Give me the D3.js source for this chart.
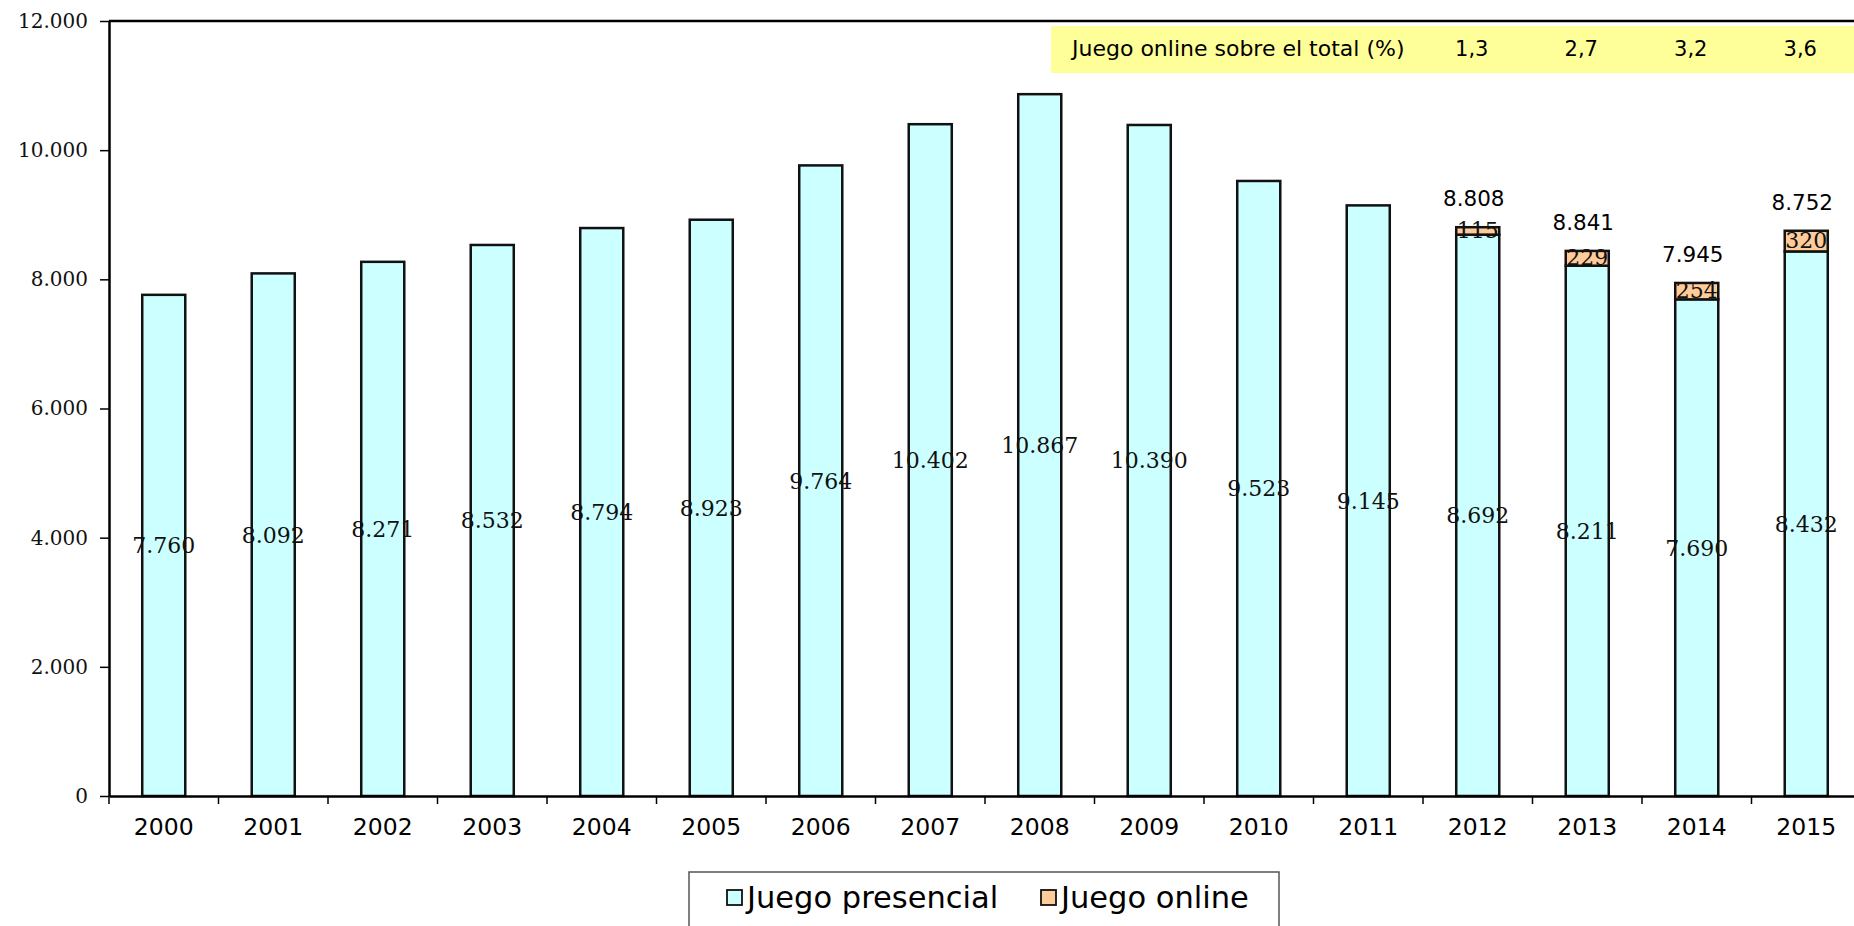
<!DOCTYPE html>
<html lang="es">
<head>
<meta charset="utf-8">
<title>Juego presencial y juego online</title>
<script src="https://cdn.jsdelivr.net/npm/d3@7"></script>
<style>
  html, body { margin: 0; padding: 0; background: #ffffff; }
  svg { display: block; }
</style>
</head>
<body>
<svg id="chart" width="1854" height="926"></svg>
<script>
// Años y cantidades (millones de euros)
const years = ["2000","2001","2002","2003","2004","2005","2006","2007","2008","2009","2010","2011","2012","2013","2014","2015"];
const presencial = [7760, 8092, 8271, 8532, 8794, 8923, 9764, 10402, 10867, 10390, 9523, 9145, 8692, 8211, 7690, 8432];
const online = [null, null, null, null, null, null, null, null, null, null, null, null, 115, 229, 254, 320];
// Totales publicados sobre las barras apiladas
const totalYears = ["2012","2013","2014","2015"];
const totals = [8808, 8841, 7945, 8752];
// Peso del juego online sobre el total
const shareYears = ["2012","2013","2014","2015"];
const sharePct = ["1,3","2,7","3,2","3,6"];
const yTicks = [0, 2000, 4000, 6000, 8000, 10000, 12000];
const seriesNames = ["Juego presencial", "Juego online"];
const seriesColors = ["#ccffff", "#ffcc99"];

const es = d3.formatLocale({decimal: ",", thousands: ".", grouping: [3], currency: ["", " €"]});
const fmt = es.format(",.0f");

const svg = d3.select("#chart");
const plotLeft = 109, plotTop = 21, plotBottom = 796;
const plotWidth = 16 * 109.5;

const x = d3.scaleBand().domain(years).range([plotLeft, plotLeft + plotWidth]).padding(0);
const y = d3.scaleLinear().domain([0, 12000]).range([plotBottom, plotTop]);
const barW = x.bandwidth() * 0.393;
const cx = d => x(d) + x.bandwidth() / 2;

const sansFont = "DejaVu Sans, Verdana, sans-serif";
const labelFont = "DejaVu Serif, serif";

// Banda amarilla con el porcentaje online
const band = svg.append("g");
band.append("rect")
  .attr("x", 1051).attr("y", 26).attr("width", 900).attr("height", 47)
  .attr("fill", "#ffff99");
band.append("text")
  .attr("x", 1072).attr("y", 50)
  .attr("dominant-baseline", "middle")
  .attr("font-family", sansFont)
  .attr("font-size", 22)
  .attr("fill", "#000")
  .text("Juego online sobre el total (%)");
band.selectAll("text.pct").data(shareYears).join("text")
  .attr("class", "pct")
  .attr("x", (d) => cx(d) - 6)
  .attr("y", 50)
  .attr("text-anchor", "middle")
  .attr("dominant-baseline", "middle")
  .attr("font-family", sansFont)
  .attr("font-size", 21)
  .attr("fill", "#000")
  .text((d, i) => sharePct[i]);

// Barras: juego presencial
const bars = svg.append("g");
bars.selectAll("rect.pres").data(years).join("rect")
  .attr("class", "pres")
  .attr("x", d => cx(d) - barW / 2)
  .attr("width", barW)
  .attr("y", (d, i) => y(presencial[i]))
  .attr("height", (d, i) => y(0) - y(presencial[i]))
  .attr("fill", seriesColors[0])
  .attr("stroke", "#111")
  .attr("stroke-width", 2.5);

// Barras: juego online apilado
const onlineYears = years.filter((d, i) => online[i] != null);
bars.selectAll("rect.onl").data(onlineYears).join("rect")
  .attr("class", "onl")
  .attr("x", d => cx(d) - barW / 2)
  .attr("width", barW)
  .attr("y", d => { const i = years.indexOf(d); return y(presencial[i] + online[i]); })
  .attr("height", d => { const i = years.indexOf(d); return y(presencial[i]) - y(presencial[i] + online[i]); })
  .attr("fill", seriesColors[1])
  .attr("stroke", "#111")
  .attr("stroke-width", 2.5);

// Etiquetas dentro de las barras
svg.append("g").selectAll("text").data(years).join("text")
  .attr("x", d => cx(d))
  .attr("y", (d, i) => y(presencial[i] / 2) + 2)
  .attr("text-anchor", "middle")
  .attr("dominant-baseline", "middle")
  .attr("font-family", labelFont)
  .attr("font-size", 22)
  .attr("fill", "#111")
  .text((d, i) => fmt(presencial[i]));

svg.append("g").selectAll("text").data(onlineYears).join("text")
  .attr("x", d => cx(d))
  .attr("y", d => { const i = years.indexOf(d); return y(presencial[i] + online[i] / 2) + 1; })
  .attr("text-anchor", "middle")
  .attr("dominant-baseline", "middle")
  .attr("font-family", labelFont)
  .attr("font-size", 22)
  .attr("fill", "#111")
  .text(d => fmt(online[years.indexOf(d)]));

// Totales sobre las barras apiladas
svg.append("g").selectAll("text").data(totalYears).join("text")
  .attr("x", d => cx(d) - 4)
  .attr("y", d => { const i = years.indexOf(d); return y(presencial[i] + online[i]) - 21; })
  .attr("text-anchor", "middle")
  .attr("font-family", sansFont)
  .attr("font-size", 21.5)
  .attr("fill", "#000")
  .text((d, i) => fmt(totals[i]));

// Eje Y
const yAxis = svg.append("g")
  .attr("transform", `translate(${plotLeft},0)`)
  .call(d3.axisLeft(y).tickValues(yTicks).tickFormat(fmt).tickSize(9).tickSizeOuter(0).tickPadding(12));
yAxis.select(".domain").attr("stroke", "#000").attr("stroke-width", 2.5);
yAxis.selectAll(".tick line").attr("stroke", "#000").attr("stroke-width", 1.5);
yAxis.selectAll(".tick text")
  .attr("font-family", labelFont)
  .attr("font-size", 20)
  .attr("fill", "#111");

// Eje X: marcas entre categorías y etiquetas centradas
const xAxis = svg.append("g")
  .attr("transform", `translate(0,${plotBottom})`)
  .call(d3.axisBottom(x).tickSize(0).tickSizeOuter(0).tickPadding(22));
xAxis.select(".domain").attr("stroke", "#000").attr("stroke-width", 2.5);
xAxis.selectAll(".tick text")
  .attr("font-family", sansFont)
  .attr("font-size", 23.5)
  .attr("fill", "#000");
xAxis.append("g").selectAll("line").data(d3.range(years.length + 1)).join("line")
  .attr("x1", i => plotLeft + i * x.step()).attr("x2", i => plotLeft + i * x.step())
  .attr("y1", 0).attr("y2", 8)
  .attr("stroke", "#000").attr("stroke-width", 1.5);

// Borde superior del área de trazado
svg.append("line")
  .attr("x1", plotLeft).attr("x2", plotLeft + plotWidth)
  .attr("y1", y(12000)).attr("y2", y(12000))
  .attr("stroke", "#000").attr("stroke-width", 2.5);

// Leyenda
const legend = svg.append("g");
legend.append("rect")
  .attr("x", 689).attr("y", 872).attr("width", 590).attr("height", 80)
  .attr("fill", "#fff").attr("stroke", "#555").attr("stroke-width", 1.5);
const legendX = [727, 1041];
seriesNames.forEach((name, i) => {
  legend.append("rect")
    .attr("x", legendX[i]).attr("y", 890).attr("width", 15).attr("height", 15)
    .attr("fill", seriesColors[i]).attr("stroke", "#111").attr("stroke-width", 1.8);
  legend.append("text")
    .attr("x", legendX[i] + 20).attr("y", 899)
    .attr("dominant-baseline", "middle")
    .attr("font-family", sansFont)
    .attr("font-size", 30.5)
    .attr("fill", "#000")
    .text(name);
});
</script>
</body>
</html>
